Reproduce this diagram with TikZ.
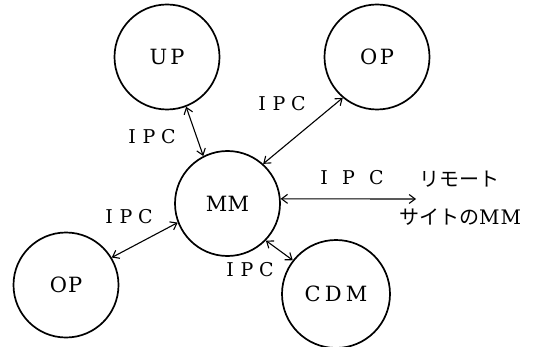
\documentclass[tikz,border=0pt]{standalone}
\usepackage{fontspec}
\setmainfont{DejaVu Serif}
\newfontfamily\jp{Noto Sans CJK JP}
\usetikzlibrary{arrows.meta}
\begin{document}
\begin{tikzpicture}[x=1pt,y=-1pt,
  proc/.style={circle,draw,line width=1.7pt,minimum size=105pt,inner sep=0pt,
    font=\fontsize{21}{24}\selectfont},
  link/.style={line width=1.1pt,{Straight Barb[length=6pt,width=9pt]}-{Straight Barb[length=6pt,width=9pt]}},
  lbl/.style={inner sep=0pt,font=\fontsize{19}{22}\selectfont},
  jlbl/.style={inner sep=0pt,font=\fontsize{20}{24}\selectfont}]
\useasboundingbox (0,0) rectangle (534,347);
\node[proc] (UP) at (167,57) {U\hspace{0.15em}P};
\node[proc] (OPt) at (377,57) {O\hspace{0.12em}P};
\node[proc] (MM) at (227.5,203.5) {M\hspace{0.02em}M};
\node[proc] (OPl) at (66,285) {O\hspace{0.05em}P};
\node[proc,minimum size=108pt] (CDM) at (336,294) {C\hspace{0.2em}D\hspace{0.2em}M};
\coordinate (rm) at (416,199);
\draw[link] (UP.-69) -- (MM.117);
\draw[link] (OPt.-130) -- (MM.48);
\draw[link] (OPl.31) -- (MM.201);
\draw[link] (MM.-44) -- (CDM.142);
\draw[link] (MM.5) -- (rm);
\node[lbl] (l1) at (152,137) {I\hspace{0.35em}P\hspace{0.3em}C};
\node[lbl] (l2) at (282,104) {I\hspace{0.35em}P\hspace{0.3em}C};
\node[lbl] (l3) at (129,217) {I\hspace{0.35em}P\hspace{0.3em}C};
\node[lbl] (l4) at (250,270) {I\hspace{0.35em}P\hspace{0.3em}C};
\node[lbl] (l5) at (352,178) {I\hspace{0.75em}P\hspace{0.75em}C};
\node[jlbl] (r1) at (459,179) {\jp リモート};
\node[jlbl] (r2) at (460,217) {{\jp サイトの}M\hspace{0.05em}M};
\end{tikzpicture}
\end{document}
